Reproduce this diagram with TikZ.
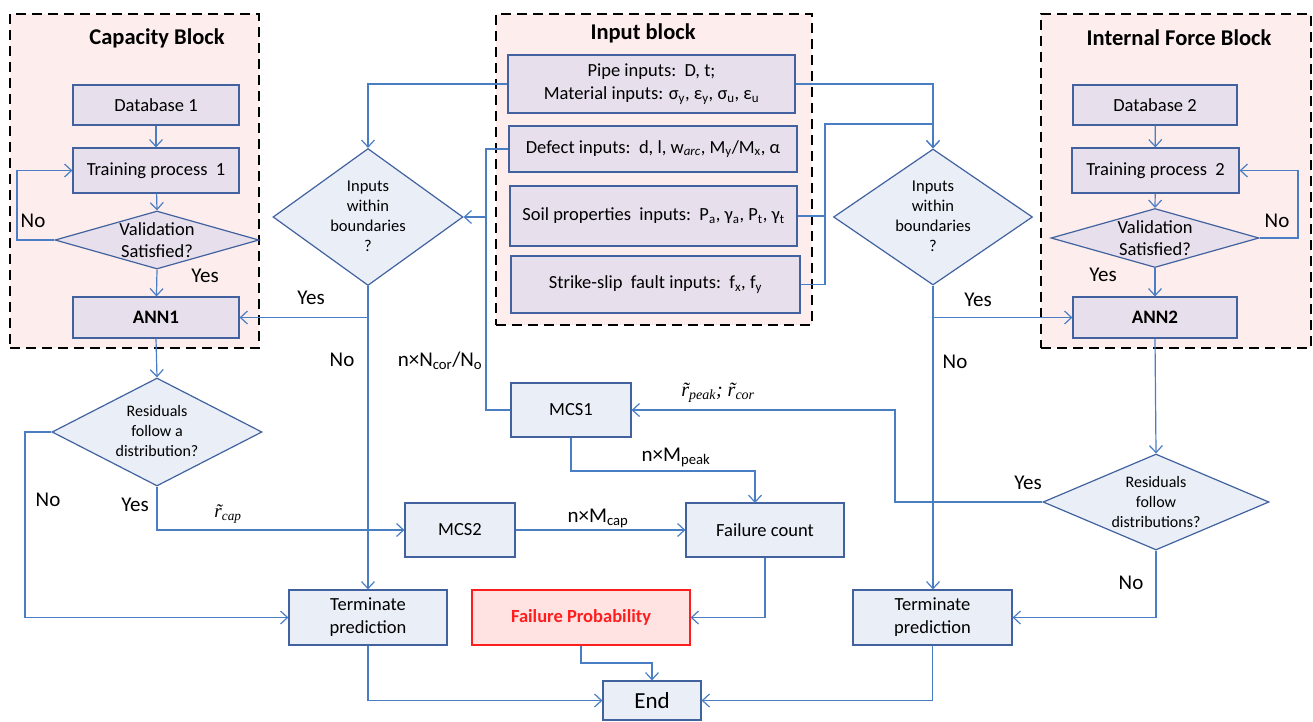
\documentclass[tikz,border=0pt]{standalone}
\usepackage{fontspec}
\setmainfont{Carlito}
\newfontfamily\serifr{Liberation Serif}
\usetikzlibrary{arrows.meta,shapes.geometric,calc}
\definecolor{conn}{RGB}{74,126,196}
\definecolor{bord}{RGB}{65,98,158}
\definecolor{lav}{RGB}{231,224,236}
\definecolor{lblue}{RGB}{233,238,247}
\definecolor{blkpink}{RGB}{253,237,237}
\definecolor{fpred}{RGB}{255,30,30}
\definecolor{fpfill}{RGB}{255,226,226}
\begin{document}
\begin{tikzpicture}[x=1pt,y=-1pt,
  lbox/.style={draw=bord, line width=1.2pt, fill=lav, inner sep=2pt, align=center, font=\fontsize{18.5}{23}\selectfont},
  bbox/.style={lbox, fill=lblue},
  dia/.style={diamond, draw=bord, line width=1.2pt, fill=lblue, inner sep=0pt},
  diat/.style={align=center, inner sep=0pt, font=\fontsize{16.5}{20}\selectfont},
  blk/.style={draw=black, fill=blkpink, line width=2.8pt, dash pattern=on 10pt off 6pt, inner sep=0pt},
  ttl/.style={inner sep=0pt, font=\fontsize{22.5}{26}\bfseries\selectfont},
  lbl/.style={inner sep=0pt, font=\fontsize{21}{24}\selectfont},
  rlbl/.style={inner sep=0pt, font=\serifr\itshape\fontsize{19}{22}\selectfont},
  arr/.style={draw=conn, line width=1.2pt, -{Straight Barb[length=7pt,width=13pt]}},
  ln/.style={draw=conn, line width=1.2pt}]
\useasboundingbox (0,0) rectangle (1313,721);

% ---------- blocks ----------
\node[blk, minimum width=249pt, minimum height=334pt] (capblk) at (134.5,181) {};
\node[blk, minimum width=316pt, minimum height=311pt] (inblk) at (654,169.5) {};
\node[blk, minimum width=270pt, minimum height=334pt] (ifblk) at (1176,181) {};
\node[ttl] (tcap) at (157,38) {Capacity Block};
\node[ttl] (tin) at (643,33) {Input block};
\node[ttl] (tif) at (1179,38) {Internal Force Block};

% ---------- capacity block ----------
\node[lbox, minimum width=166pt, minimum height=40pt] (db1) at (156,105) {Database 1};
\node[lbox, minimum width=166pt, minimum height=45pt] (tp1) at (156,170.5) {Training process \ 1};
\node[dia, fill=lav, minimum width=204pt, minimum height=58pt] (val1) at (157,240) {};
\node[diat, font=\fontsize{18.5}{22}\selectfont] (val1t) at (157,240) {Validation\\Satisfied?};
\node[lbox, minimum width=166pt, minimum height=41pt, font=\fontsize{19}{23}\bfseries\selectfont] (ann1) at (156,317.5) {ANN1};

% ---------- input block ----------
\node[lbox, minimum width=287pt, minimum height=58pt] (pipe) at (651.5,84) {Pipe inputs:\ \ D, t;\\Material inputs: σ\textsubscript{y}, ε\textsubscript{y}, σ\textsubscript{u}, ε\textsubscript{u}};
\node[lbox, minimum width=288pt, minimum height=46pt] (defect) at (653,149) {Defect inputs:\ \ d, l, w\textsubscript{\itshape arc}, M\textsubscript{y}/M\textsubscript{x}, α};
\node[lbox, minimum width=287pt, minimum height=60pt] (soil) at (653.5,216) {Soil properties\ \ inputs:\ \ P\textsubscript{a}, γ\textsubscript{a}, P\textsubscript{t}, γ\textsubscript{t}};
\node[lbox, minimum width=289pt, minimum height=57pt] (fault) at (655.5,284.5) {Strike-slip\ \ fault inputs:\ \ f\textsubscript{x}, f\textsubscript{y}};

% ---------- internal force block ----------
\node[lbox, minimum width=164pt, minimum height=40pt] (db2) at (1155,105) {Database 2};
\node[lbox, minimum width=167pt, minimum height=45pt] (tp2) at (1155.5,170.5) {Training process \ 2};
\node[dia, fill=lav, minimum width=208pt, minimum height=59pt] (val2) at (1155,238) {};
\node[diat, font=\fontsize{18.5}{22}\selectfont] (val2t) at (1155,238) {Validation\\Satisfied?};
\node[lbox, minimum width=164pt, minimum height=41pt, font=\fontsize{19}{23}\bfseries\selectfont] (ann2) at (1155,317.5) {ANN2};

% ---------- decision diamonds ----------
\node[dia, minimum width=190pt, minimum height=137pt] (in1) at (368,217) {};
\node[diat] (in1t) at (368,216.5) {Inputs\\within\\boundaries\\?};
\node[dia, minimum width=199pt, minimum height=136pt] (in2) at (933,217) {};
\node[diat] (in2t) at (933,216.5) {Inputs\\within\\boundaries\\?};
\node[dia, minimum width=210pt, minimum height=108pt] (res1) at (157,432) {};
\node[diat, font=\fontsize{16}{20}\selectfont] (res1t) at (157,431) {Residuals\\follow a\\distribution?};
\node[dia, minimum width=226pt, minimum height=96pt] (res2) at (1156,502) {};
\node[diat, font=\fontsize{16}{20}\selectfont] (res2t) at (1156,502) {Residuals\\follow\\distributions?};

% ---------- lower boxes ----------
\node[bbox, minimum width=120pt, minimum height=54pt] (mcs1) at (571,410) {MCS1};
\node[bbox, minimum width=110pt, minimum height=54pt] (mcs2) at (460,530) {MCS2};
\node[bbox, minimum width=158pt, minimum height=54pt] (fc) at (765,530) {Failure count};
\node[bbox, minimum width=158pt, minimum height=55pt] (term1) at (368,617.5) {Terminate\\prediction};
\node[bbox, minimum width=159pt, minimum height=55pt] (term2) at (932.5,617.5) {Terminate\\prediction};
\node[lbox, draw=fpred, fill=fpfill, text=fpred, minimum width=218pt, minimum height=55pt, font=\fontsize{18.5}{23}\bfseries\selectfont] (fp) at (581,617.5) {Failure Probability};
\node[bbox, minimum width=98pt, minimum height=39pt, font=\fontsize{23}{26}\selectfont] (end) at (652,700.5) {End};

% ---------- labels ----------
\node[lbl] (no1) at (33,221) {No};
\node[lbl] (yes1) at (205,276) {Yes};
\node[lbl] (no2) at (1277,221) {No};
\node[lbl] (yes2) at (1103,275) {Yes};
\node[lbl] (yes3) at (311,298) {Yes};
\node[lbl] (no3) at (342,360) {No};
\node[lbl] (yes4) at (978,300) {Yes};
\node[lbl] (no4) at (955,362) {No};
\node[lbl] (no5) at (48,500) {No};
\node[lbl] (yes5) at (135,505) {Yes};
\node[lbl] (yes6) at (1028,483) {Yes};
\node[lbl] (no6) at (1131,583) {No};
\node[lbl] (ncor) at (440,361) {n×N\textsubscript{cor}/N\textsubscript{o}};
\node[lbl] (mpeak) at (676,457) {n×M\textsubscript{peak}};
\node[lbl] (mcap) at (598,518) {n×M\textsubscript{cap}};
\node[rlbl] (rcap) at (228,514) {r̃\textsubscript{cap}};
\node[rlbl, font=\serifr\itshape\fontsize{20}{22}\selectfont] (rpeak) at (718,393) {r̃\textsubscript{peak}; r̃\textsubscript{cor}};

% ---------- coordinates ----------
\coordinate (lv1) at (17,240);
\coordinate (lv2) at (1298,238);
\coordinate (jd) at (486,149);
\coordinate (jin1) at (486,217);
\coordinate (jr) at (825,124);
\coordinate (rl) at (25,432);
\coordinate (r2l) at (895,502);
\coordinate (mp) at (755,471);
\coordinate (fcin) at (755,503);
\coordinate (fpj) at (652,663);

% ---------- connectors ----------
\draw[arr] (db1) -- (tp1);
\draw[arr] (tp1) -- (val1.north);
\draw[arr] (val1.south) -- (ann1);
\draw[arr] (val1.west) -- (lv1) |- (tp1.west);

\draw[arr] (db2) -- (tp2);
\draw[arr] (tp2) -- (val2.north);
\draw[arr] (val2.south) -- (ann2);
\draw[arr] (val2.east) -- (lv2) |- (tp2.east);

\draw[arr] (pipe.west) -| (in1.north);
\draw[arr] (pipe.east) -| (in2.north);
\draw[ln] (defect.west) -- (jd) |- (mcs1.west);
\draw[arr] (jin1) -- (in1.east);
\draw[ln] (soil.east) -- (soil.east -| jr);
\draw[arr] (fault.east) -| (jr) -| (in2.north);

\draw[arr] (in1.south) |- (ann1.east);
\draw[arr] (in1.south) -- (term1.north);
\draw[arr] (in2.south) |- (ann2.west);
\draw[arr] (in2.south) -- (in2.south |- term2.north);

\draw[arr] (ann1.south) -- (res1.north);
\draw[arr] (ann2.south) -- (res2.north);

\draw[arr] (res1.west) -- (rl) |- (term1.west);
\draw[arr] (res1.south) |- (mcs2.west);
\draw[arr] (mcs2.east) -- (fc.west);
\draw[arr] (mcs1.south) |- (mp) -- (fcin);
\draw[arr] (res2.west) -- (r2l) |- (mcs1.east);
\draw[arr] (res2.south) |- (term2.east);
\draw[arr] (fc.south) |- (fp.east);
\draw[arr] (fp.south) |- (fpj) -- (end.north);
\draw[arr] (term1.south) |- (end.west);
\draw[arr] (term2.south) |- (end.east);
\end{tikzpicture}
\end{document}
